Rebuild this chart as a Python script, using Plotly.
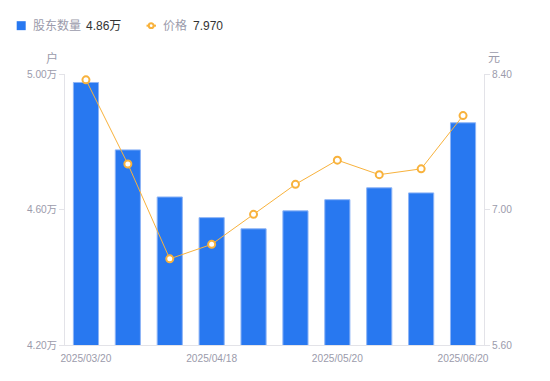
import plotly.graph_objects as go

dates = ["2025/03/20", "2025/03/31", "2025/04/10", "2025/04/18", "2025/04/30",
         "2025/05/09", "2025/05/20", "2025/05/31", "2025/06/10", "2025/06/20"]
holders = [4.975, 4.776, 4.637, 4.576, 4.543, 4.596, 4.629, 4.664, 4.649, 4.856]  # 万户
price = [8.34, 7.47, 6.49, 6.64, 6.95, 7.26, 7.51, 7.36, 7.42, 7.97]
x_tick_labels = ["2025/03/20", "2025/04/18", "2025/05/20", "2025/06/20"]
left_ticks = [4.2, 4.6, 5.0]
right_ticks = [5.6, 7.0, 8.4]

FONT = "Liberation Sans, Arial, Noto Sans CJK SC, sans-serif"
GRAY = "#9b9bab"
DARK = "#333333"
AXIS = "#e3e3e8"
BLUE = "#2878f0"
ORANGE = "#f8b23c"
TICK = 10.2

fig = go.Figure()
fig.add_trace(go.Bar(
    x=dates, y=holders, name="股东数量", yaxis="y",
    marker=dict(color=BLUE, line=dict(color="#8db4f6", width=1)),
    width=0.6, base=0,
))
fig.add_trace(go.Scatter(
    x=dates, y=price, name="价格", yaxis="y2", mode="lines+markers",
    line=dict(color=ORANGE, width=1),
    marker=dict(symbol="circle", size=7, color="white", line=dict(color=ORANGE, width=2)),
))

fig.update_layout(
    width=550, height=381,
    margin=dict(l=65, r=66, t=73.5, b=35.5, autoexpand=False),
    paper_bgcolor="white", plot_bgcolor="white",
    showlegend=False,
    font=dict(family=FONT, size=11, color=GRAY),
    xaxis=dict(
        type="category", tickvals=x_tick_labels, ticktext=x_tick_labels,
        range=[-0.5, len(dates) - 0.5],
        showline=True, linecolor=AXIS, linewidth=1, ticks="", showgrid=False,
        tickfont=dict(size=TICK, color=GRAY), zeroline=False, automargin=False,
        ticklabelstandoff=4,
    ),
    yaxis=dict(
        range=[4.2, 5.0], tickvals=left_ticks,
        ticktext=[f"{v:.2f}万" for v in left_ticks],
        showline=True, linecolor=AXIS, linewidth=1, ticks="outside", ticklen=5,
        tickcolor=AXIS, showgrid=False, zeroline=False, automargin=False,
        tickfont=dict(size=TICK, color=GRAY),
    ),
    yaxis2=dict(
        range=[5.6, 8.4], tickvals=right_ticks,
        ticktext=[f"{v:.2f}" for v in right_ticks],
        overlaying="y", side="right",
        showline=True, linecolor=AXIS, linewidth=1, ticks="outside", ticklen=5,
        tickcolor=AXIS, showgrid=False, zeroline=False, automargin=False,
        tickfont=dict(size=TICK, color=GRAY),
    ),
)

# axis unit titles
fig.add_annotation(text="户", xref="paper", yref="paper", x=-0.012, y=1.0, yshift=16,
                   xanchor="right", yanchor="middle", showarrow=False,
                   font=dict(size=12, color=GRAY))
fig.add_annotation(text="元", xref="paper", yref="paper", x=1.0, xshift=2, y=1.0, yshift=16,
                   xanchor="left", yanchor="middle", showarrow=False,
                   font=dict(size=12, color=GRAY))

# custom legend (top-left)
def px(xp):
    return (xp - 65) / 419.0

def py(yp):
    return (381 - 35.5 - yp) / 272.0

LEG_Y = 25

def leg_text(txt, x, color):
    fig.add_annotation(text=txt, xref="paper", yref="paper", x=px(x), y=py(LEG_Y),
                       xanchor="left", yanchor="middle", showarrow=False,
                       xshift=-1, font=dict(size=12, color=color))

fig.add_shape(type="rect", xref="paper", yref="paper",
              x0=px(16.7), x1=px(25.7), y0=py(29.5), y1=py(20.5),
              fillcolor=BLUE, line=dict(width=0))
leg_text("股东数量", 31.5, GRAY)
leg_text(f"{holders[-1]:.2f}万", 85, DARK)

fig.add_shape(type="line", xref="paper", yref="paper",
              x0=px(146.5), x1=px(156), y0=py(LEG_Y), y1=py(LEG_Y),
              line=dict(color=ORANGE, width=2))
fig.add_shape(type="circle", xref="paper", yref="paper",
              x0=px(148.8), x1=px(153.6), y0=py(LEG_Y + 2.4), y1=py(LEG_Y - 2.4),
              fillcolor="white", line=dict(color=ORANGE, width=2))
leg_text("价格", 161.5, GRAY)
leg_text(f"{price[-1]:.3f}", 191.5, DARK)

fig.write_html("out.html", config={"displayModeBar": False},
               post_script="document.body.style.margin='0';document.body.style.padding='0';")
